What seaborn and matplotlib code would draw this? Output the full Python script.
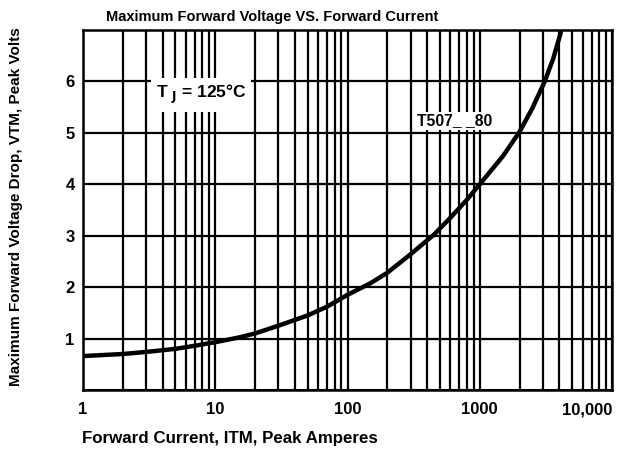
import numpy as np
import pandas as pd
import seaborn as sns
import matplotlib.pyplot as plt
from matplotlib.ticker import LogLocator, FixedLocator, NullFormatter, FixedFormatter

# values
current = [1, 2, 3, 5, 7, 10, 15, 20, 30, 50, 70, 100, 150, 200, 300, 450,
           600, 800, 1000, 1500, 2000, 2500, 3100, 3600, 4100]
voltage = [0.66, 0.70, 0.74, 0.80, 0.86, 0.93, 1.02, 1.10, 1.25, 1.45, 1.62,
           1.85, 2.08, 2.28, 2.64, 3.02, 3.35, 3.70, 4.00, 4.55, 5.02, 5.48,
           6.00, 6.45, 6.95]
xticks = [1, 10, 100, 1000, 10000]
xticklabels = ['1', '10', '100', '1000', '10,000']
yticks = [1, 2, 3, 4, 5, 6]

sns.set_style('white')
plt.rcParams['font.family'] = ['Liberation Sans', 'DejaVu Sans']
plt.rcParams['font.weight'] = 'bold'
for key in ['text.color', 'xtick.color', 'ytick.color', 'axes.labelcolor']:
    plt.rcParams[key] = 'black'

df = pd.DataFrame({'I': current, 'V': voltage})

fig = plt.figure(figsize=(6.23, 4.49), dpi=100)
ax = fig.add_axes([83/623, 59/449, 529/623, 360/449])

sns.lineplot(data=df, x='I', y='V', color='black', lw=3.2, ax=ax, zorder=5)
ax.set_xscale('log')
ax.set_xlim(1, 10000)
ax.set_ylim(0, 7)

ax.xaxis.set_major_locator(FixedLocator(xticks))
ax.xaxis.set_major_formatter(FixedFormatter(xticklabels))
ax.xaxis.set_minor_locator(LogLocator(base=10, subs=np.arange(2, 10)))
ax.xaxis.set_minor_formatter(NullFormatter())
ax.set_yticks(yticks)
ax.grid(which='both', axis='x', color='black', lw=1.6)
ax.grid(which='major', axis='y', color='black', lw=1.6)
ax.axhline(0, color='black', lw=2.2)
for s in ax.spines.values():
    s.set_color('black')
    s.set_linewidth(1.8)
ax.tick_params(which='both', length=0, labelsize=12, pad=9, colors='black')
ax.tick_params(axis='y', pad=6)
for lab in ax.get_xticklabels() + ax.get_yticklabels():
    lab.set_fontweight('bold')
ax.get_xticklabels()[-1].set_ha('right')

ax.set_xlabel('')
ax.set_ylabel('')

ax.text(7.8, 5.74, r'T $_{\mathbf{J}}$ = 125°C', fontsize=12.5, fontweight='bold',
        ha='center', va='center', zorder=6,
        bbox=dict(boxstyle='square,pad=0.3', fc='white', ec='none'))
ax.text(650, 5.23, 'T507_ _80', fontsize=11.3, fontweight='bold',
        ha='center', va='center', zorder=6,
        bbox=dict(boxstyle='square,pad=0.12', fc='white', ec='none'))

fig.text(272/623, 1 - 17/449, 'Maximum Forward Voltage VS. Forward Current',
         ha='center', va='center', fontsize=10.5, fontweight='bold')
fig.text(82/623, 1 - 438/449, 'Forward Current, ITM, Peak Amperes',
         ha='left', va='center', fontsize=12.2, fontweight='bold')
fig.text(16/623, 1 - 207/449, 'Maximum Forward Voltage Drop, VTM, Peak Volts',
         ha='center', va='center', rotation=90, fontsize=11, fontweight='bold')

fig.savefig('out.png', dpi=100)
